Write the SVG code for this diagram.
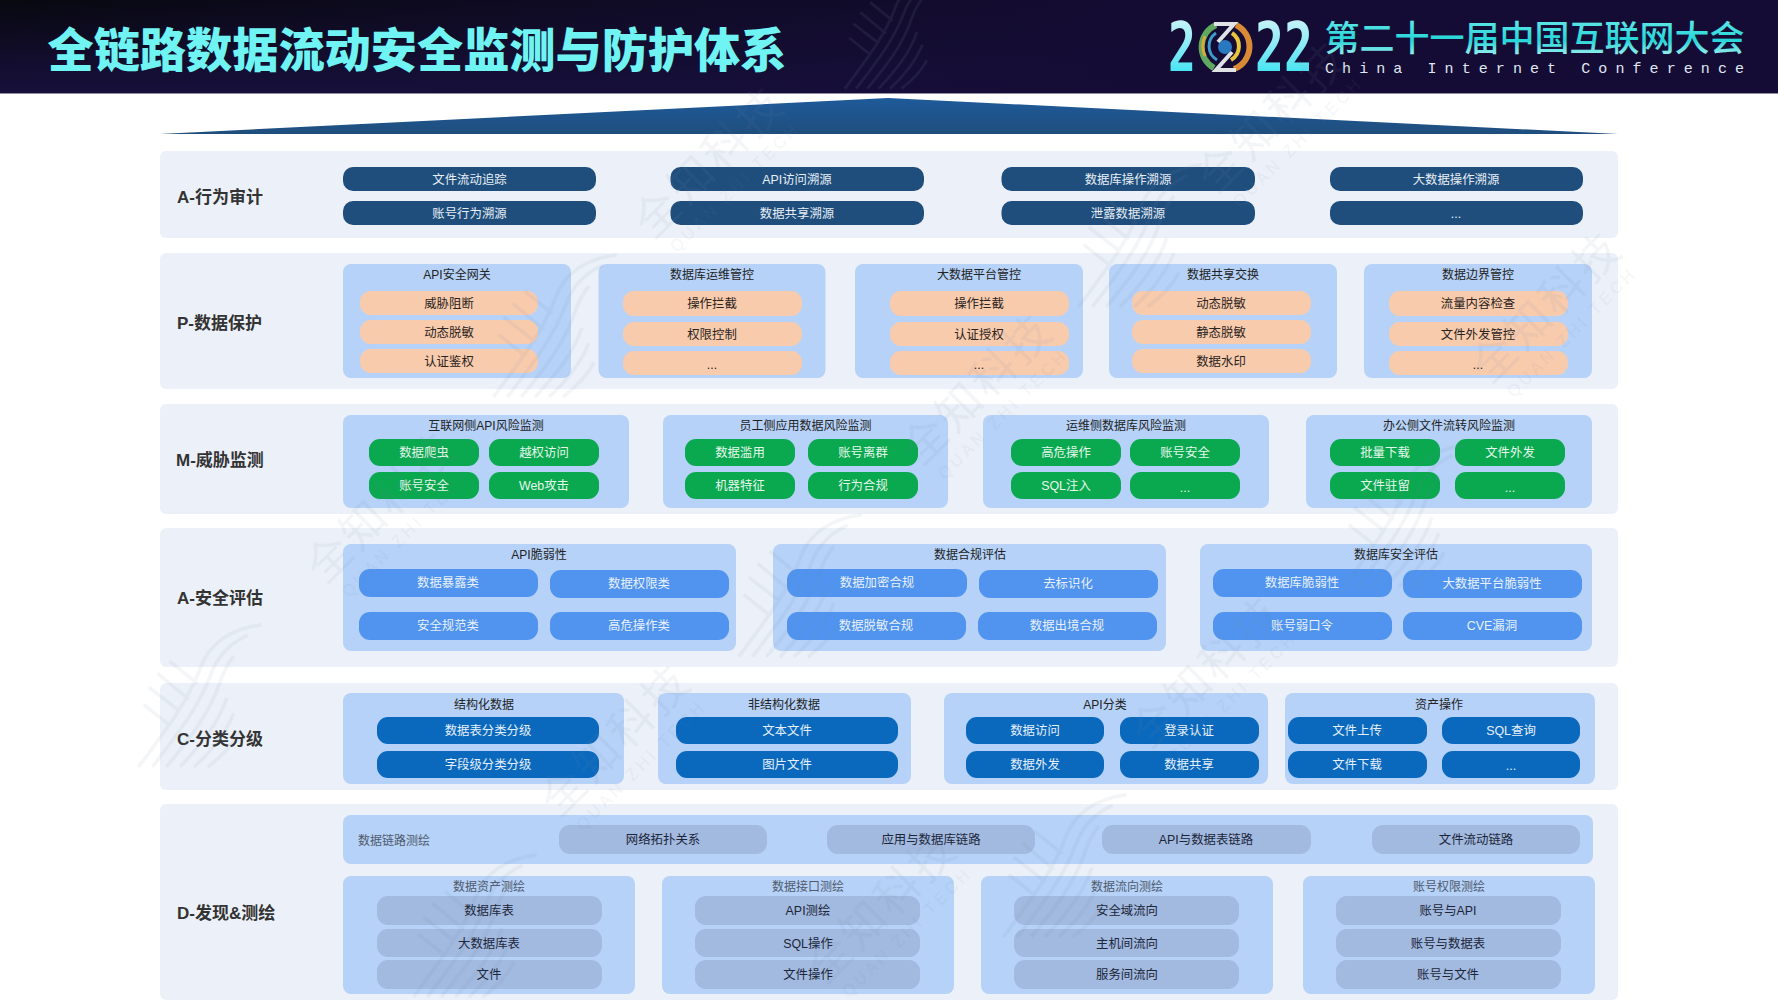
<svg xmlns="http://www.w3.org/2000/svg" width="1778" height="1000" viewBox="0 0 1778 1000">
<style>
text{font-family:"Liberation Sans","Noto Sans CJK SC",sans-serif;text-anchor:middle;dominant-baseline:central;font-size:12.4px;transform:translateY(1px)}
.band{fill:#ecf1f9}
.navy rect{fill:#1f4e7d}.navy text{fill:#e8eef5}
.peach rect{fill:#f8cbad}.peach text{fill:#2a2320}
.green rect{fill:#0aa84f}.green text{fill:#e6f7ec}
.blue rect{fill:#5094ef}.blue text{fill:#e8f1fd}
.deep rect{fill:#0a69bd}.deep text{fill:#e6f0fa}
.mist rect{fill:#a2b9e0}.mist text{fill:#1c2638}
.row{font-size:17px;font-weight:700;fill:#333;text-anchor:start}
.wmt{font-size:44px;fill:#7288a6;letter-spacing:4px;transform:none}
.wms{font-size:16px;fill:#7288a6;letter-spacing:4px;transform:none}
.hatch{fill:none;stroke:#7288a6;stroke-width:4}
</style>
<defs>
<linearGradient id="hdr" x1="0" y1="0" x2="0" y2="1"><stop offset="0" stop-color="#08080f"/><stop offset="1" stop-color="#17103c"/></linearGradient>
<linearGradient id="hdr2" x1="0" y1="0" x2="1" y2="0"><stop offset="0" stop-color="#17103c" stop-opacity="0"/><stop offset="0.7" stop-color="#150c35" stop-opacity="1"/></linearGradient>
<linearGradient id="tri" x1="0" y1="0" x2="0" y2="1"><stop offset="0" stop-color="#1e5a9a"/><stop offset="1" stop-color="#1f4e7d"/></linearGradient>
<linearGradient id="cy" x1="0" y1="0" x2="0" y2="1"><stop offset="0" stop-color="#e4f6fa"/><stop offset="1" stop-color="#25e0f0"/></linearGradient>
<linearGradient id="cy2" x1="0" y1="0" x2="0" y2="1"><stop offset="0" stop-color="#7ff0f0"/><stop offset="0.6" stop-color="#25d5d8"/><stop offset="1" stop-color="#c5f5f5"/></linearGradient>
<symbol id="bird" viewBox="0 0 150 170" overflow="visible">
<path class="hatch" d="M4 168C40 120 62 90 76 52C86 26 110 8 146 4"/>
<path class="hatch" d="M20 168C52 126 74 98 88 60C96 38 112 24 130 16"/>
<path class="hatch" d="M36 168C64 134 86 106 98 70C102 58 106 50 114 40"/>
<path class="hatch" d="M52 168C76 142 96 118 106 88"/>
<path class="hatch" d="M68 168C88 150 104 130 114 106"/>
<path class="hatch" d="M84 168C100 156 112 144 120 128"/>
<path class="hatch" d="M40 120L10 96M52 104L16 76M62 90L26 60M72 72L40 46"/>
</symbol>
</defs>

<rect width="1778" height="1000" fill="#fff"/>

<g id="header">
<rect width="1778" height="93" fill="url(#hdr)"/>
<rect width="1778" height="93" fill="url(#hdr2)"/>
<rect y="93" width="1778" height="1" fill="#8f8ea6"/>
<use href="#bird" x="830" y="-30" width="130" height="120" opacity="0.12"/>
<text id="title" x="417" y="45.500" style="font-size:46.200px;font-weight:900;fill:#6ff3f3;font-family:'Noto Sans CJK SC','Liberation Sans',sans-serif">全链路数据流动安全监测与防护体系</text>
<g id="logo">
<text x="1182" y="46" style="font-size:68px;font-weight:700;fill:url(#cy);font-family:'DejaVu Sans Mono','Liberation Mono',monospace" textLength="28" lengthAdjust="spacingAndGlyphs">2</text>
<text x="1284" y="46" style="font-size:68px;font-weight:700;fill:url(#cy);font-family:'DejaVu Sans Mono','Liberation Mono',monospace" textLength="58" lengthAdjust="spacingAndGlyphs">22</text>
<g id="emblem" fill="none">
<path d="M1216 25A24 24 0 0 0 1214 68" stroke="#5fa860" stroke-width="6"/>
<path d="M1205 56A24 24 0 0 1 1205 36" stroke="#d9a93a" stroke-width="3"/>
<path d="M1236 25A24 24 0 0 1 1234 69" stroke="#d98a35" stroke-width="6"/>
<path d="M1216 33A16 16 0 0 0 1217 60" stroke="#3f9bc8" stroke-width="3"/>
<path d="M1232 33A16 16 0 0 1 1231 60" stroke="#e8c53a" stroke-width="4"/>
<path d="M1214 24L1234 24L1218 42M1236 70L1216 70L1232 52" stroke="#dfe3e6" stroke-width="4"/>
<circle cx="1225" cy="47" r="7" fill="#2a78c0"/>
</g>
</g>
<text x="1534.500" y="34" style="font-size:35px;font-weight:500;fill:url(#cy2);font-family:'Noto Sans CJK SC',sans-serif">第二十一届中国互联网大会</text>
<text x="1534.500" y="68" style="font-size:15px;fill:#dfe8f2;font-family:'Liberation Mono',monospace" textLength="419" lengthAdjust="spacing">China Internet Conference</text>
</g>

<g id="connectors"/>

<polygon id="roof" points="160,134 888,98 1618,134" fill="url(#tri)"/>

<g id="layer-audit">
<rect class="band" x="160" y="151" width="1458" height="87" rx="6"/>
<text class="row" x="177" y="196">A-行为审计</text>
<g class="navy">
<g id="a1"><rect x="343" y="167" width="253" height="24" rx="10"/><text x="469.500" y="179">文件流动追踪</text></g>
<g id="a2"><rect x="343" y="201" width="253" height="24" rx="10"/><text x="469.500" y="213">账号行为溯源</text></g>
<g id="a3"><rect x="670.500" y="167" width="253.500" height="24" rx="10"/><text x="797" y="179">API访问溯源</text></g>
<g id="a4"><rect x="670.500" y="201" width="253.500" height="24" rx="10"/><text x="797" y="213">数据共享溯源</text></g>
<g id="a5"><rect x="1001.500" y="167" width="253.500" height="24" rx="10"/><text x="1128" y="179">数据库操作溯源</text></g>
<g id="a6"><rect x="1001.500" y="201" width="253.500" height="24" rx="10"/><text x="1128" y="213">泄露数据溯源</text></g>
<g id="a7"><rect x="1330" y="167" width="253" height="24" rx="10"/><text x="1456" y="179">大数据操作溯源</text></g>
<g id="a8"><rect x="1330" y="201" width="253" height="24" rx="10"/><text x="1456" y="213">...</text></g>
</g>
</g>

<g id="layer-protect">
<rect class="band" x="160" y="253" width="1458" height="136" rx="6"/>
<text class="row" x="177" y="322">P-数据保护</text>
<g id="p1" class="peach">
<rect x="343" y="264" width="228" height="114" rx="8" style="fill:#b6d2f8"/>
<text x="457" y="274" style="fill:#222;font-size:12px">API安全网关</text>
<g id="p1a"><rect x="360" y="291" width="178" height="24" rx="11"/><text x="449" y="303">威胁阻断</text></g>
<g id="p1b"><rect x="360" y="320" width="178" height="24" rx="11"/><text x="449" y="332">动态脱敏</text></g>
<g id="p1c"><rect x="360" y="349" width="178" height="24" rx="11"/><text x="449" y="361">认证鉴权</text></g>
</g>
<g id="p2" class="peach">
<rect x="598.500" y="264" width="227" height="114" rx="8" style="fill:#b6d2f8"/>
<text x="712" y="274" style="fill:#222;font-size:12px">数据库运维管控</text>
<g id="p2a"><rect x="623" y="291" width="179" height="25" rx="11"/><text x="712" y="303">操作拦截</text></g>
<g id="p2b"><rect x="623" y="322" width="179" height="24" rx="11"/><text x="712" y="334">权限控制</text></g>
<g id="p2c"><rect x="623" y="351" width="179" height="24" rx="11"/><text x="712" y="364">...</text></g>
</g>
<g id="p3" class="peach">
<rect x="855" y="264" width="228" height="114" rx="8" style="fill:#b6d2f8"/>
<text x="979" y="274" style="fill:#222;font-size:12px">大数据平台管控</text>
<g id="p3a"><rect x="890" y="291" width="179" height="25" rx="11"/><text x="979" y="303">操作拦截</text></g>
<g id="p3b"><rect x="890" y="322" width="179" height="24" rx="11"/><text x="979" y="334">认证授权</text></g>
<g id="p3c"><rect x="890" y="351" width="179" height="24" rx="11"/><text x="979" y="364">...</text></g>
</g>
<g id="p4" class="peach">
<rect x="1109" y="264" width="228" height="114" rx="8" style="fill:#b6d2f8"/>
<text x="1223" y="274" style="fill:#222;font-size:12px">数据共享交换</text>
<g id="p4a"><rect x="1132" y="291" width="179" height="24" rx="11"/><text x="1221" y="303">动态脱敏</text></g>
<g id="p4b"><rect x="1132" y="320" width="179" height="24" rx="11"/><text x="1221" y="332">静态脱敏</text></g>
<g id="p4c"><rect x="1132" y="349" width="179" height="24" rx="11"/><text x="1221" y="361">数据水印</text></g>
</g>
<g id="p5" class="peach">
<rect x="1364" y="264" width="228" height="114" rx="8" style="fill:#b6d2f8"/>
<text x="1478" y="274" style="fill:#222;font-size:12px">数据边界管控</text>
<g id="p5a"><rect x="1389" y="291" width="179" height="25" rx="11"/><text x="1478" y="303">流量内容检查</text></g>
<g id="p5b"><rect x="1389" y="322" width="179" height="24" rx="11"/><text x="1478" y="334">文件外发管控</text></g>
<g id="p5c"><rect x="1389" y="351" width="179" height="24" rx="11"/><text x="1478" y="364">...</text></g>
</g>
</g>

<g id="layer-monitor">
<rect class="band" x="160" y="404" width="1458" height="110" rx="6"/>
<text class="row" x="176" y="459">M-威胁监测</text>
<g id="m1" class="green">
<rect x="343" y="415" width="286" height="93" rx="8" style="fill:#b6d2f8"/>
<text x="486" y="425" style="fill:#222;font-size:12px">互联网侧API风险监测</text>
<g id="m1a"><rect x="369" y="439" width="110" height="27" rx="11"/><text x="424" y="452">数据爬虫</text></g>
<g id="m1b"><rect x="489" y="439" width="110" height="27" rx="11"/><text x="544" y="452">越权访问</text></g>
<g id="m1c"><rect x="369" y="472" width="110" height="27" rx="11"/><text x="424" y="485">账号安全</text></g>
<g id="m1d"><rect x="489" y="472" width="110" height="27" rx="11"/><text x="544" y="485">Web攻击</text></g>
</g>
<g id="m2" class="green">
<rect x="663" y="415" width="285" height="93" rx="8" style="fill:#b6d2f8"/>
<text x="805.500" y="425" style="fill:#222;font-size:12px">员工侧应用数据风险监测</text>
<g id="m2a"><rect x="685" y="439" width="110" height="27" rx="11"/><text x="740" y="452">数据滥用</text></g>
<g id="m2b"><rect x="808" y="439" width="110" height="27" rx="11"/><text x="863" y="452">账号离群</text></g>
<g id="m2c"><rect x="685" y="472" width="110" height="27" rx="11"/><text x="740" y="485">机器特征</text></g>
<g id="m2d"><rect x="808" y="472" width="110" height="27" rx="11"/><text x="863" y="485">行为合规</text></g>
</g>
<g id="m3" class="green">
<rect x="983" y="415" width="286" height="93" rx="8" style="fill:#b6d2f8"/>
<text x="1126" y="425" style="fill:#222;font-size:12px">运维侧数据库风险监测</text>
<g id="m3a"><rect x="1011" y="439" width="110" height="27" rx="11"/><text x="1066" y="452">高危操作</text></g>
<g id="m3b"><rect x="1130" y="439" width="110" height="27" rx="11"/><text x="1185" y="452">账号安全</text></g>
<g id="m3c"><rect x="1011" y="472" width="110" height="27" rx="11"/><text x="1066" y="485">SQL注入</text></g>
<g id="m3d"><rect x="1130" y="472" width="110" height="27" rx="11"/><text x="1185" y="487">...</text></g>
</g>
<g id="m4" class="green">
<rect x="1306" y="415" width="286" height="93" rx="8" style="fill:#b6d2f8"/>
<text x="1449" y="425" style="fill:#222;font-size:12px">办公侧文件流转风险监测</text>
<g id="m4a"><rect x="1330" y="439" width="110" height="27" rx="11"/><text x="1385" y="452">批量下载</text></g>
<g id="m4b"><rect x="1455" y="439" width="110" height="27" rx="11"/><text x="1510" y="452">文件外发</text></g>
<g id="m4c"><rect x="1330" y="472" width="110" height="27" rx="11"/><text x="1385" y="485">文件驻留</text></g>
<g id="m4d"><rect x="1455" y="472" width="110" height="27" rx="11"/><text x="1510" y="487">...</text></g>
</g>
</g>

<g id="layer-assess">
<rect class="band" x="160" y="528" width="1458" height="139" rx="6"/>
<text class="row" x="177" y="597">A-安全评估</text>
<g id="s1" class="blue">
<rect x="343" y="544" width="393" height="107" rx="8" style="fill:#b6d2f8"/>
<text x="539" y="554" style="fill:#222;font-size:12px">API脆弱性</text>
<g id="s1a"><rect x="359" y="569" width="179" height="28" rx="11"/><text x="448" y="582">数据暴露类</text></g>
<g id="s1b"><rect x="550" y="570" width="179" height="28" rx="11"/><text x="639" y="583">数据权限类</text></g>
<g id="s1c"><rect x="359" y="612" width="179" height="28" rx="11"/><text x="448" y="625">安全规范类</text></g>
<g id="s1d"><rect x="550" y="612" width="179" height="28" rx="11"/><text x="639" y="625">高危操作类</text></g>
</g>
<g id="s2" class="blue">
<rect x="773" y="544" width="393" height="107" rx="8" style="fill:#b6d2f8"/>
<text x="970" y="554" style="fill:#222;font-size:12px">数据合规评估</text>
<g id="s2a"><rect x="787" y="569" width="180" height="28" rx="11"/><text x="877" y="582">数据加密合规</text></g>
<g id="s2b"><rect x="979" y="570" width="179" height="28" rx="11"/><text x="1068" y="583">去标识化</text></g>
<g id="s2c"><rect x="787" y="612" width="179" height="28" rx="11"/><text x="876" y="625">数据脱敏合规</text></g>
<g id="s2d"><rect x="978" y="612" width="179" height="28" rx="11"/><text x="1067" y="625">数据出境合规</text></g>
</g>
<g id="s3" class="blue">
<rect x="1200" y="544" width="392" height="107" rx="8" style="fill:#b6d2f8"/>
<text x="1396" y="554" style="fill:#222;font-size:12px">数据库安全评估</text>
<g id="s3a"><rect x="1213" y="569" width="179" height="28" rx="11"/><text x="1302" y="582">数据库脆弱性</text></g>
<g id="s3b"><rect x="1403" y="570" width="179" height="28" rx="11"/><text x="1492" y="583">大数据平台脆弱性</text></g>
<g id="s3c"><rect x="1213" y="612" width="179" height="28" rx="11"/><text x="1302" y="625">账号弱口令</text></g>
<g id="s3d"><rect x="1403" y="612" width="179" height="28" rx="11"/><text x="1492" y="625">CVE漏洞</text></g>
</g>
</g>

<g id="layer-classify">
<rect class="band" x="160" y="683" width="1458" height="107" rx="6"/>
<text class="row" x="177" y="738">C-分类分级</text>
<g id="c1" class="deep">
<rect x="343" y="693" width="281" height="91" rx="8" style="fill:#b6d2f8"/>
<text x="484" y="704" style="fill:#222;font-size:12px">结构化数据</text>
<g id="c1a"><rect x="377" y="717" width="222" height="27" rx="11"/><text x="488" y="730">数据表分类分级</text></g>
<g id="c1b"><rect x="377" y="751" width="222" height="27" rx="11"/><text x="488" y="764">字段级分类分级</text></g>
</g>
<g id="c2" class="deep">
<rect x="658" y="693" width="253" height="91" rx="8" style="fill:#b6d2f8"/>
<text x="784" y="704" style="fill:#222;font-size:12px">非结构化数据</text>
<g id="c2a"><rect x="676" y="717" width="222" height="27" rx="11"/><text x="787" y="730">文本文件</text></g>
<g id="c2b"><rect x="676" y="751" width="222" height="27" rx="11"/><text x="787" y="764">图片文件</text></g>
</g>
<g id="c3" class="deep">
<rect x="944" y="693" width="324" height="91" rx="8" style="fill:#b6d2f8"/>
<text x="1105" y="704" style="fill:#222;font-size:12px">API分类</text>
<g id="c3a"><rect x="966" y="717" width="138" height="27" rx="11"/><text x="1035" y="730">数据访问</text></g>
<g id="c3b"><rect x="1120" y="717" width="139" height="27" rx="11"/><text x="1189" y="730">登录认证</text></g>
<g id="c3c"><rect x="966" y="751" width="138" height="27" rx="11"/><text x="1035" y="764">数据外发</text></g>
<g id="c3d"><rect x="1120" y="751" width="139" height="27" rx="11"/><text x="1189" y="764">数据共享</text></g>
</g>
<g id="c4" class="deep">
<rect x="1285" y="693" width="310" height="91" rx="8" style="fill:#b6d2f8"/>
<text x="1439" y="704" style="fill:#222;font-size:12px">资产操作</text>
<g id="c4a"><rect x="1288" y="717" width="139" height="27" rx="11"/><text x="1357" y="730">文件上传</text></g>
<g id="c4b"><rect x="1442" y="717" width="138" height="27" rx="11"/><text x="1511" y="730">SQL查询</text></g>
<g id="c4c"><rect x="1288" y="751" width="139" height="27" rx="11"/><text x="1357" y="764">文件下载</text></g>
<g id="c4d"><rect x="1442" y="751" width="138" height="27" rx="11"/><text x="1511" y="765">...</text></g>
</g>
</g>

<g id="layer-discover">
<rect class="band" x="160" y="804" width="1458" height="196" rx="6"/>
<text class="row" x="177" y="912">D-发现&amp;测绘</text>
<g id="d0" class="mist">
<rect x="343" y="815" width="1250" height="49" rx="8" style="fill:#b6d2f8"/>
<text x="394" y="840" style="fill:#505a6c;font-size:12px">数据链路测绘</text>
<g id="d0a"><rect x="559" y="825" width="208" height="29" rx="11"/><text x="663" y="839">网络拓扑关系</text></g>
<g id="d0b"><rect x="827" y="825" width="208" height="29" rx="11"/><text x="931" y="839">应用与数据库链路</text></g>
<g id="d0c"><rect x="1102" y="825" width="209" height="29" rx="11"/><text x="1206" y="839">API与数据表链路</text></g>
<g id="d0d"><rect x="1372" y="825" width="208" height="29" rx="11"/><text x="1476" y="839">文件流动链路</text></g>
</g>
<g id="d1" class="mist">
<rect x="343" y="876" width="292" height="118" rx="8" style="fill:#b6d2f8"/>
<text x="489" y="886" style="fill:#505a6c;font-size:12px">数据资产测绘</text>
<g id="d1a"><rect x="377" y="896" width="225" height="29" rx="11"/><text x="489" y="910">数据库表</text></g>
<g id="d1b"><rect x="377" y="929" width="225" height="28" rx="11"/><text x="489" y="943">大数据库表</text></g>
<g id="d1c"><rect x="377" y="960" width="225" height="29" rx="11"/><text x="489" y="974">文件</text></g>
</g>
<g id="d2" class="mist">
<rect x="662" y="876" width="292" height="118" rx="8" style="fill:#b6d2f8"/>
<text x="808" y="886" style="fill:#505a6c;font-size:12px">数据接口测绘</text>
<g id="d2a"><rect x="695" y="896" width="225" height="29" rx="11"/><text x="808" y="910">API测绘</text></g>
<g id="d2b"><rect x="695" y="929" width="225" height="28" rx="11"/><text x="808" y="943">SQL操作</text></g>
<g id="d2c"><rect x="695" y="960" width="225" height="29" rx="11"/><text x="808" y="974">文件操作</text></g>
</g>
<g id="d3" class="mist">
<rect x="981" y="876" width="292" height="118" rx="8" style="fill:#b6d2f8"/>
<text x="1127" y="886" style="fill:#505a6c;font-size:12px">数据流向测绘</text>
<g id="d3a"><rect x="1014" y="896" width="225" height="29" rx="11"/><text x="1127" y="910">安全域流向</text></g>
<g id="d3b"><rect x="1014" y="929" width="225" height="28" rx="11"/><text x="1127" y="943">主机间流向</text></g>
<g id="d3c"><rect x="1014" y="960" width="225" height="29" rx="11"/><text x="1127" y="974">服务间流向</text></g>
</g>
<g id="d4" class="mist">
<rect x="1303" y="876" width="292" height="118" rx="8" style="fill:#b6d2f8"/>
<text x="1449" y="886" style="fill:#505a6c;font-size:12px">账号权限测绘</text>
<g id="d4a"><rect x="1336" y="896" width="225" height="29" rx="11"/><text x="1448" y="910">账号与API</text></g>
<g id="d4b"><rect x="1336" y="929" width="225" height="28" rx="11"/><text x="1448" y="943">账号与数据表</text></g>
<g id="d4c"><rect x="1336" y="960" width="225" height="29" rx="11"/><text x="1448" y="974">账号与文件</text></g>
</g>
</g>

<g id="watermark" opacity="0.09">
<g transform="translate(1281 125) rotate(-45)"><text class="wmt" y="-12">全知科技</text><text class="wms" y="24">QUAN ZHI TECH</text></g>
<g transform="translate(718 170) rotate(-45)"><text class="wmt" y="-12">全知科技</text><text class="wms" y="24">QUAN ZHI TECH</text></g>
<g transform="translate(1555 315) rotate(-45)"><text class="wmt" y="-12">全知科技</text><text class="wms" y="24">QUAN ZHI TECH</text></g>
<g transform="translate(986 397) rotate(-45)"><text class="wmt" y="-12">全知科技</text><text class="wms" y="24">QUAN ZHI TECH</text></g>
<g transform="translate(390 515) rotate(-45)"><text class="wmt" y="-12">全知科技</text><text class="wms" y="24">QUAN ZHI TECH</text></g>
<g transform="translate(1215 680) rotate(-45)"><text class="wmt" y="-12">全知科技</text><text class="wms" y="24">QUAN ZHI TECH</text></g>
<g transform="translate(624 748) rotate(-45)"><text class="wmt" y="-12">全知科技</text><text class="wms" y="24">QUAN ZHI TECH</text></g>
<g transform="translate(890 915) rotate(-45)"><text class="wmt" y="-12">全知科技</text><text class="wms" y="24">QUAN ZHI TECH</text></g>
<use href="#bird" x="490" y="250" width="130" height="150"/>
<use href="#bird" x="1075" y="160" width="130" height="150"/>
<use href="#bird" x="135" y="620" width="130" height="150"/>
<use href="#bird" x="735" y="510" width="130" height="150"/>
<use href="#bird" x="1340" y="440" width="130" height="150"/>
<use href="#bird" x="1000" y="790" width="130" height="150"/>
<use href="#bird" x="410" y="850" width="130" height="150"/>
</g>
</svg>
